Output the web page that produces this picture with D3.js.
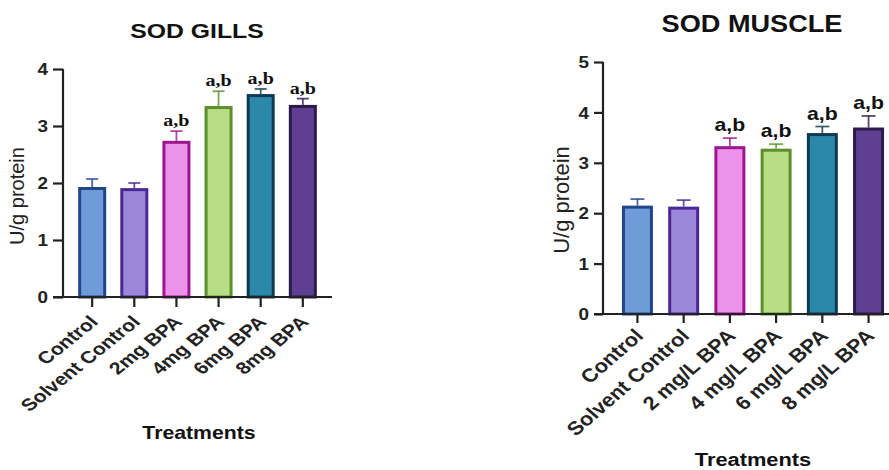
<!DOCTYPE html>
<html><head><meta charset="utf-8">
<script src="https://cdn.jsdelivr.net/npm/d3@7"></script>
<style>body{margin:0;background:#fff}svg{display:block}</style>
</head><body><svg id="c" width="889" height="470"></svg>
<script>
const gillsCats = ["Control","Solvent Control","2mg BPA","4mg BPA","6mg BPA","8mg BPA"];
const gillsMean = [1.93,1.91,2.74,3.35,3.56,3.37];
const gillsErr  = [0.14,0.09,0.17,0.26,0.09,0.11];
const gillsSig  = ["","","a,b","a,b","a,b","a,b"];
const gillsTicks = [0,1,2,3,4];

const muscleCats = ["Control","Solvent Control","2 mg/L BPA","4 mg/L BPA","6 mg/L BPA","8 mg/L BPA"];
const muscleMean = [2.15,2.13,3.33,3.28,3.59,3.70];
const muscleErr  = [0.13,0.13,0.16,0.09,0.13,0.23];
const muscleSig  = ["","","a,b","a,b","a,b","a,b"];
const muscleTicks = [0,1,2,3,4,5];

const fills   = ["#6f9bd8","#9c86d9","#ec92ea","#b7de85","#2b88aa","#5f3f92"];
const strokes = ["#22468a","#4a2894","#9c178f","#5b8f2a","#0f3a52","#2b1a4c"];

const SANS = "Liberation Sans, Arial, sans-serif";
const SX = 1.18;
const svg = d3.select("#c");

function panel(o){
  const g = svg.append("g");
  const y = d3.scaleLinear().domain([0,o.ymax]).range([o.y0,o.ytop]);
  const x = d3.scaleBand().domain(o.cats).range([o.xl,o.xr]).paddingInner(o.pad).paddingOuter(o.padOuter);
  o.cats.forEach((c,i)=>{
    const bx = x(c), bw = x.bandwidth();
    const cx = bx + bw/2;
    const top = y(o.mean[i]+o.err[i]);
    g.append("line").attr("x1",cx).attr("x2",cx).attr("y1",y(o.mean[i])).attr("y2",top)
      .attr("stroke",strokes[i]).attr("stroke-width",1.8).attr("opacity",0.8);
    g.append("line").attr("x1",cx-o.cap).attr("x2",cx+o.cap).attr("y1",top).attr("y2",top)
      .attr("stroke",strokes[i]).attr("stroke-width",1.8).attr("opacity",0.8);
    g.append("rect").attr("x",bx+1.5).attr("y",y(o.mean[i])+1.5).attr("width",bw-3).attr("height",y(0)-y(o.mean[i])-1.5)
      .attr("fill",fills[i]).attr("stroke",strokes[i]).attr("stroke-width",3);
    if(o.sig[i]) g.append("text")
      .attr("transform",`translate(${cx},${top-o.sigGap}) scale(${SX},1)`)
      .attr("text-anchor","middle").attr("font-family",o.sigFont).attr("font-weight","bold")
      .attr("font-size",o.sigSize).attr("fill","#111").text(o.sig[i]);
  });
  // y axis
  const ya = g.append("g").attr("transform",`translate(${o.xl},0)`)
    .call(d3.axisLeft(y).tickValues(o.ticks).tickFormat(d3.format("d")).tickSize(o.tick));
  ya.select(".domain").attr("stroke","#222").attr("stroke-width",2.2).attr("d",`M0,${o.y0}V${o.ytop}`);
  ya.selectAll(".tick line").attr("stroke","#222").attr("stroke-width",2.2);
  ya.selectAll(".tick text").attr("x",null).attr("dy","0.36em")
    .attr("transform",`translate(${-o.tick-o.numPad},0) scale(${SX},1)`)
    .attr("font-family",SANS).attr("font-weight","bold")
    .attr("font-size",o.tickFont).attr("fill","#222");
  // x axis
  const xa = g.append("g").attr("transform",`translate(0,${o.y0})`)
    .call(d3.axisBottom(x).tickSize(o.tick));
  xa.select(".domain").attr("stroke","#222").attr("stroke-width",2.2).attr("d",`M${o.xl-o.tick},0H${o.xr}`);
  xa.selectAll(".tick line").attr("stroke","#222").attr("stroke-width",2.2);
  xa.selectAll(".tick text").attr("y",null).attr("dy",null)
    .attr("font-family",SANS).attr("font-weight","bold")
    .attr("font-size",o.catFont).attr("fill","#222")
    .attr("text-anchor","end")
    .attr("transform",`translate(${o.catDx},${o.catDy}) scale(${o.catSX},1) rotate(-45)`);
  // titles
  g.append("text").attr("transform",`translate(${o.titleX},${o.titleY}) scale(${SX},1)`).attr("text-anchor","middle")
    .attr("font-family",SANS).attr("font-weight","bold").attr("font-size",o.titleSize)
    .attr("fill","#111").text(o.title);
  g.append("text").attr("transform",`translate(${o.ylabX},${o.ylabY}) rotate(-90)`).attr("text-anchor","middle")
    .attr("font-family",SANS).attr("font-size",o.ylabSize).attr("fill","#222")
    .text("U/g protein");
  g.append("text").attr("transform",`translate(${o.xlabX},${o.xlabY}) scale(${SX},1)`).attr("text-anchor","middle")
    .attr("font-family",SANS).attr("font-weight","bold").attr("font-size",o.xlabSize)
    .attr("fill","#111").text("Treatments");
}

panel({cats:gillsCats,mean:gillsMean,err:gillsErr,sig:gillsSig,ticks:gillsTicks,ymax:4,
  y0:297,ytop:69,xl:63,xr:332,pad:0.335,padOuter:0.36,cap:6,tick:10,numPad:5,tickFont:16,
  catFont:17,catSX:1.25,catDx:7,catDy:26,
  sigFont:"Liberation Serif, Times New Roman, serif",sigSize:17,sigGap:5,
  title:"SOD GILLS",titleX:197,titleY:38,titleSize:21,ylabX:24,ylabY:196,ylabSize:20,xlabX:199,xlabY:439,xlabSize:18});

panel({cats:muscleCats,mean:muscleMean,err:muscleErr,sig:muscleSig,ticks:muscleTicks,ymax:5,
  y0:314,ytop:62,xl:603,xr:903,pad:0.33,padOuter:0.41,cap:7,tick:9,numPad:5,tickFont:16,
  catFont:19,catSX:1.15,catDx:7,catDy:23,
  sigFont:SANS,sigSize:18,sigGap:7,
  title:"SOD MUSCLE",titleX:752,titleY:32,titleSize:23,ylabX:569,ylabY:200,ylabSize:22,xlabX:753,xlabY:466,xlabSize:18.5});
</script></body></html>
